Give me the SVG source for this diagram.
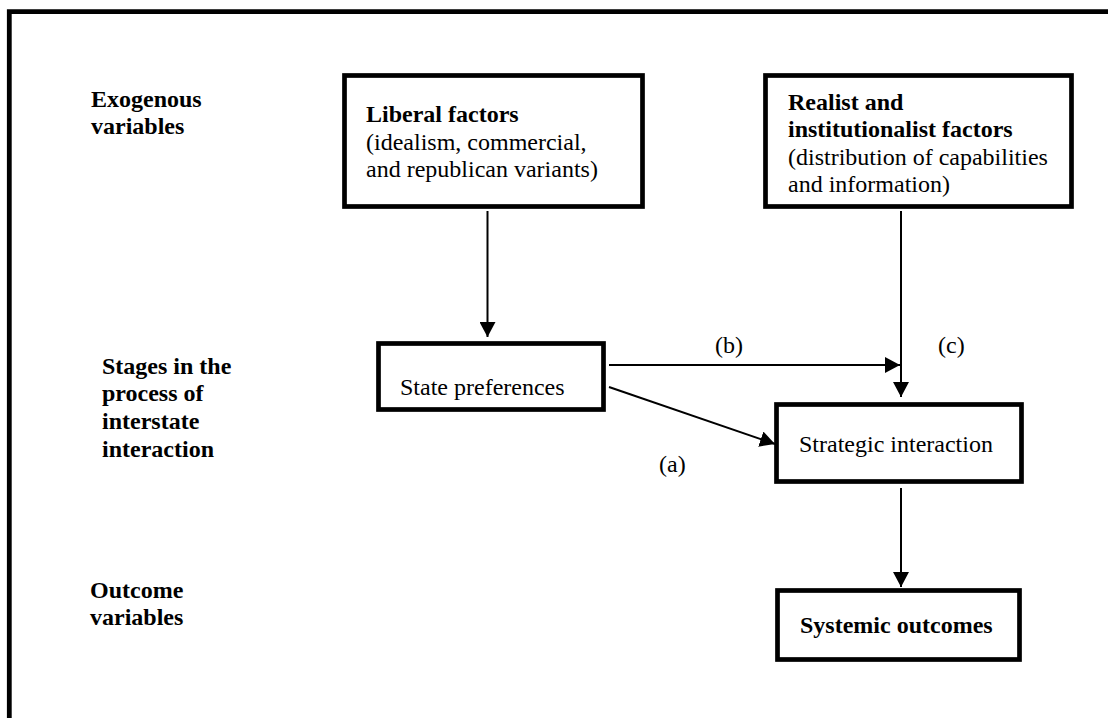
<svg xmlns="http://www.w3.org/2000/svg" width="1108" height="718" viewBox="0 0 1108 718">
<style>
text{font-family:"Liberation Serif","Times New Roman",serif;font-size:24px;fill:#000}
.b{font-weight:bold}
.box{fill:#fff;stroke:#000;stroke-width:4.7}
.con{fill:none;stroke:#000;stroke-width:2}
</style>
<defs>
<marker id="ah" viewBox="0 0 15 16" refX="15" refY="8" markerWidth="15" markerHeight="16" markerUnits="userSpaceOnUse" orient="auto">
<path d="M0,0 L15,8 L0,16 Z" fill="#000"/>
</marker>
</defs>
<rect width="1108" height="718" fill="#fff"/>
<path d="M9.3,718 V11.6 H1108" fill="none" stroke="#000" stroke-width="4.8"/>
<g id="labels">
<text class="b" x="91" y="107">Exogenous</text>
<text class="b" x="91" y="134">variables</text>
<text class="b" x="102" y="374">Stages in the</text>
<text class="b" x="102" y="401">process of</text>
<text class="b" x="102" y="429">interstate</text>
<text class="b" x="102" y="457">interaction</text>
<text class="b" x="90" y="598">Outcome</text>
<text class="b" x="90" y="625">variables</text>
</g>
<g id="connectors">
<path class="con" d="M487.5,211 V337" marker-end="url(#ah)"/>
<path class="con" d="M901,211 V397" marker-end="url(#ah)"/>
<path class="con" d="M609,365 H900" marker-end="url(#ah)"/>
<path class="con" d="M609,387 L775,444" marker-end="url(#ah)"/>
<path class="con" d="M901,488 V587" marker-end="url(#ah)"/>
<text x="715" y="353">(b)</text>
<text x="938" y="353">(c)</text>
<text x="659" y="472">(a)</text>
</g>
<g id="liberal">
<rect class="box" x="344.5" y="75.5" width="298" height="131"/>
<text class="b" x="366" y="122">Liberal factors</text>
<text x="366" y="150">(idealism, commercial,</text>
<text x="366" y="177">and republican variants)</text>
</g>
<g id="realist">
<rect class="box" x="765.5" y="75.5" width="306" height="131"/>
<text class="b" x="788" y="110">Realist and</text>
<text class="b" x="788" y="137">institutionalist factors</text>
<text x="788" y="165">(distribution of capabilities</text>
<text x="788" y="192">and information)</text>
</g>
<g id="state">
<rect class="box" x="378.5" y="343.5" width="225" height="66"/>
<text x="400" y="395">State preferences</text>
</g>
<g id="strategic">
<rect class="box" x="776.5" y="404.5" width="245" height="77"/>
<text x="799" y="452">Strategic interaction</text>
</g>
<g id="systemic">
<rect class="box" x="777.5" y="590.5" width="242" height="69"/>
<text class="b" x="800" y="633">Systemic outcomes</text>
</g>
</svg>
